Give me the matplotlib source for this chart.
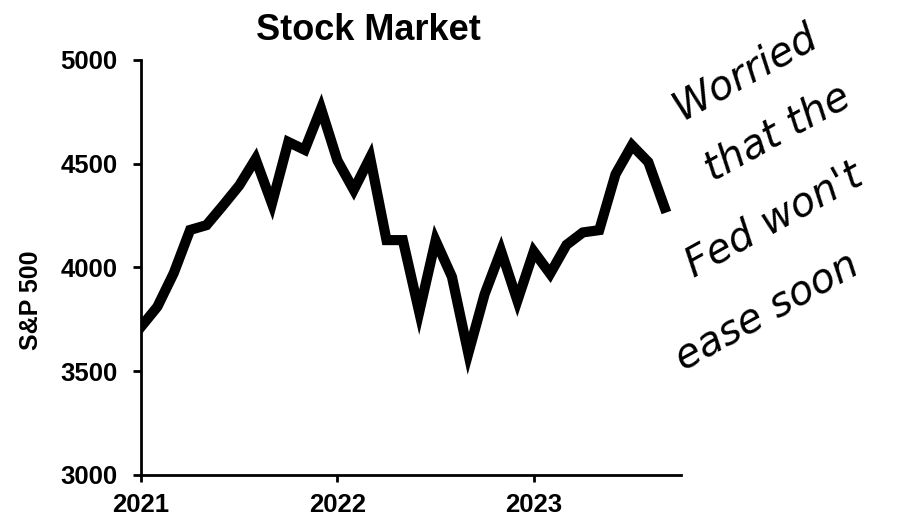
import numpy as np
import matplotlib.pyplot as plt

# monthly S&P 500 closes, Jan 2021 - Sep 2023
months = np.arange(33)
sp500 = [3714, 3811, 3973, 4181, 4204, 4298, 4395, 4523, 4308, 4605, 4567, 4766,
         4516, 4374, 4530, 4132, 4132, 3785, 4130, 3955, 3586, 3872, 4080, 3840,
         4077, 3970, 4109, 4169, 4180, 4450, 4589, 4508, 4288]
year_pos = [0, 12, 24]
year_labels = ['2021', '2022', '2023']
y_ticks = [3000, 3500, 4000, 4500, 5000]
note_lines = ['Worried', 'that the', "Fed won't", 'ease soon']

plt.rcParams['font.family'] = ['Liberation Sans', 'DejaVu Sans']

fig = plt.figure(figsize=(9, 5.19), dpi=100)
ax = fig.add_axes([0.1567, 0.0848, 0.6, 0.7996])

ax.plot(months, sp500, color='black', lw=7.3, solid_joinstyle='miter')

ax.set_xlim(0, 33)
ax.set_ylim(3000, 5000)
ax.set_yticks(y_ticks)
ax.set_yticklabels([str(v) for v in y_ticks], fontsize=18.5, fontweight='bold')
ax.set_xticks(year_pos)
ax.set_xticklabels(year_labels, fontsize=18.5, fontweight='bold')
ax.tick_params(axis='y', direction='out', length=6, width=2, pad=11)
ax.tick_params(axis='x', direction='out', length=5, width=2, pad=8)
for s in ['top', 'right']:
    ax.spines[s].set_visible(False)
for s in ['left', 'bottom']:
    ax.spines[s].set_linewidth(2)

ax.set_ylabel('S&P 500', fontsize=18, fontweight='bold')
ax.yaxis.set_label_coords(-0.182, 0.42)

fig.text(368/900, 1 - 31/519, 'Stock Market', fontsize=26, fontweight='bold',
         ha='center', va='center')

# handwritten note
note_xy = [(745, 72), (777, 133), (774, 220), (767, 312)]
for txt, (px, py) in zip(note_lines, note_xy):
    fig.text(px/900, 1 - py/519, txt, fontsize=29, fontstyle='italic',
             family=['DejaVu Sans'], rotation=29, ha='center', va='center',
             rotation_mode='anchor')

fig.savefig('out.png', dpi=100)
